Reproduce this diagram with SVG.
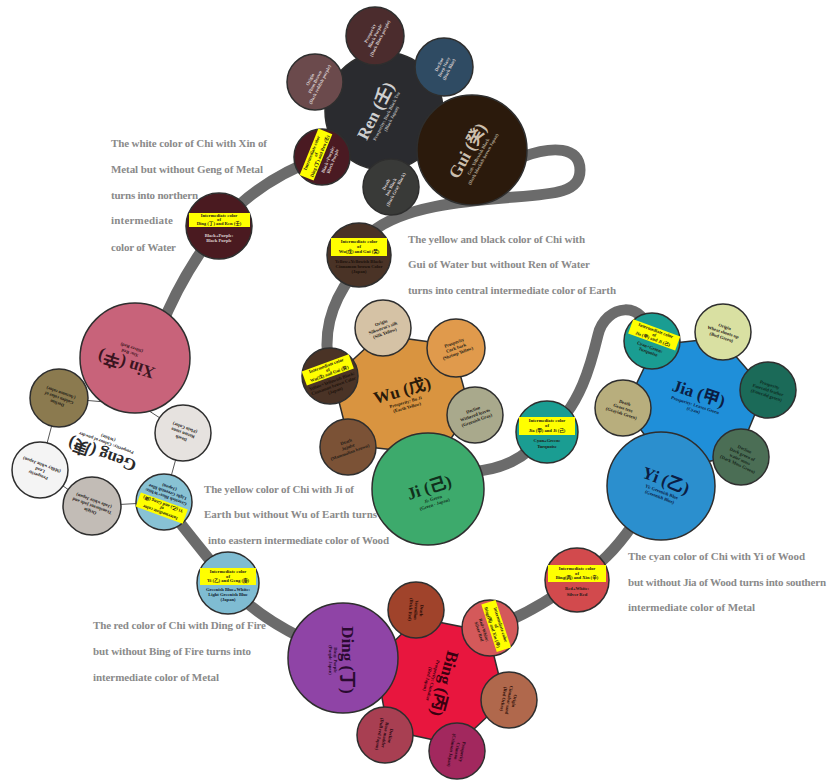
<svg xmlns="http://www.w3.org/2000/svg" width="829" height="782" viewBox="0 0 829 782">
<style>
.band{fill:none;stroke:#6b6b6b;stroke-width:11;stroke-linecap:round}
.nd{stroke:#2e2e2e;stroke-width:1.5}
.para{font-family:"Liberation Serif","Noto Sans CJK SC",serif;font-weight:bold;font-size:11px;fill:#8a8a8a}
.main{font-family:"Liberation Serif","Noto Sans CJK SC",serif;font-weight:bold;font-size:17px;text-anchor:middle}
.t5{font-family:"Liberation Serif","Noto Sans CJK SC",serif;font-size:4.6px;text-anchor:middle;font-weight:bold}
.lt{fill:#ddd3d3}
.dk{fill:#1e1a16}
.yb{fill:#ffff00}
</style>
<rect width="829" height="782" fill="#ffffff"/>
<g id="connectors">
<path class="band" d="M 522 157 C 552 146, 580 146, 580 170 C 580 192, 556 194, 515 197 C 462 201, 402 207, 372 232"/>
<path class="band" d="M 352 275 C 330 305, 322 335, 330 370"/>
<path class="band" d="M 470 472 C 500 470, 525 460, 547 432"/>
<path class="band" d="M 547 432 C 580 410, 592 360, 598 335 C 605 305, 645 296, 652 341"/>
<path class="band" d="M 632 526 C 615 550, 600 565, 577 580 C 550 600, 520 618, 490 628"/>
<path class="band" d="M 300 637 C 270 622, 245 605, 228 583 C 210 560, 185 530, 164 502"/>
<path class="band" d="M 160 330 C 175 290, 195 258, 219 226 C 245 195, 280 172, 322 157"/>
</g>

<!-- Ren cluster -->
<g id="ren">
<circle class="nd" cx="384" cy="111" r="59" fill="#2a2b2f"/>
<g transform="translate(378,112) rotate(-63)">
<text class="main" y="3" fill="#cfcfcf">Ren (壬)</text>
<text class="t5" y="11" fill="#b8b8b8">Prosperity: Dark Black Tea</text>
<text class="t5" y="16.5" fill="#b8b8b8">(Black Japan)</text>
</g>
</g>
<g id="ren-top">
<circle class="nd" cx="375" cy="36" r="29" fill="#4b2c2d"/>
<g transform="translate(375,36) rotate(-63)" class="lt">
<text class="t5" y="-4">Prosperity</text><text class="t5" y="1.5">Black Purple</text><text class="t5" y="7">(Dark Black purple)</text>
</g>
</g>
<g id="ren-decline">
<circle class="nd" cx="444" cy="67" r="29" fill="#2f4b63"/>
<g transform="translate(444,67) rotate(-63)" class="lt">
<text class="t5" y="-4">Decline</text><text class="t5" y="1.5">Deep Navy</text><text class="t5" y="7">(Dark Blue)</text>
</g>
</g>
<g id="ren-origin">
<circle class="nd" cx="315" cy="82" r="28" fill="#6b4a4c"/>
<g transform="translate(315,82) rotate(-63)" class="lt">
<text class="t5" y="-4">Origin</text><text class="t5" y="1.5">Plum Brown</text><text class="t5" y="7">(Dark reddish purple)</text>
</g>
</g>
<g id="ren-death">
<circle class="nd" cx="391" cy="187" r="28" fill="#393a38"/>
<g transform="translate(391,187) rotate(-63)" class="lt">
<text class="t5" y="-4">Death</text><text class="t5" y="1.5">Ink Black</text><text class="t5" y="7">(Dark Gray Black)</text>
</g>
</g>
<g id="ren-intermediate">
<circle class="nd" cx="322" cy="157" r="28" fill="#4a1a22"/>
<g transform="translate(322,157) rotate(-68)">
<rect class="yb" x="-25" y="-14" width="50" height="15"/>
<text class="t5 dk" y="-9.5">Intermediate color</text>
<text class="t5 dk" y="-5">of</text>
<text class="t5 dk" y="-0.8">Ding (丁) and Ren (壬)</text>
<text class="t5 lt" y="8">Black+Purple:</text>
<text class="t5 lt" y="13">Black Purple</text>
</g>
</g>
<g id="gui">
<circle class="nd" cx="472" cy="150" r="55" fill="#2b1a0c"/>
<g transform="translate(470,152) rotate(-61)">
<text class="main" y="3" fill="#cbbfae">Gui (癸)</text>
<text class="t5" y="11" fill="#b5a996">Gui: Yellowish Black</text>
<text class="t5" y="16.5" fill="#b5a996">(Dark blackish brown Japan)</text>
</g>
</g>

<g id="ding-ren-intermediate">
<circle class="nd" cx="219" cy="226" r="33" fill="#4a1a20"/>
<g transform="translate(219,226)">
<rect class="yb" x="-30" y="-13" width="61" height="14"/>
<text class="t5 dk" y="-9">Intermediate color</text>
<text class="t5 dk" y="-4.8">of</text>
<text class="t5 dk" y="-0.6">Ding (丁) and Ren (壬)</text>
<text class="t5 lt" y="11">Black+Purple:</text>
<text class="t5 lt" y="16">Black Purple</text>
</g>
</g>

<!-- Wu cluster -->
<g id="wu">
<polygon class="nd" points="380,335 452,345 470,410 440,455 350,445 333,378" fill="#d99440"/>
<g transform="translate(403,393) rotate(-16)">
<text class="main" y="3" fill="#2a1a0a">Wu (戊)</text>
<text class="t5" y="11" fill="#2a1a0a">Prosperity: Bo Ji</text>
<text class="t5" y="16.5" fill="#2a1a0a">(Earth Yellow)</text>
</g>
</g>
<g id="wu-origin">
<circle class="nd" cx="383" cy="328" r="28" fill="#d5c2a5"/>
<g transform="translate(383,328) rotate(-20)" class="dk">
<text class="t5" y="-4">Origin</text><text class="t5" y="1.5">Silkworm's silk</text><text class="t5" y="7">(Silk Yellow)</text>
</g>
</g>
<g id="wu-prosperity">
<circle class="nd" cx="456" cy="348" r="29" fill="#e09a4c"/>
<g transform="translate(456,348) rotate(-20)" class="dk">
<text class="t5" y="-4">Prosperity</text><text class="t5" y="1.5">Cork bark</text><text class="t5" y="7">(Shrimp Yellow)</text>
</g>
</g>
<g id="wu-decline">
<circle class="nd" cx="475" cy="415" r="28" fill="#a9a98c"/>
<g transform="translate(475,415) rotate(-20)" class="dk">
<text class="t5" y="-4">Decline</text><text class="t5" y="1.5">Withered leaves</text><text class="t5" y="7">(Greenish Gray)</text>
</g>
</g>
<g id="wu-death">
<circle class="nd" cx="348" cy="447" r="28" fill="#7b5236"/>
<g transform="translate(348,447) rotate(-20)" class="dk">
<text class="t5" y="-4">Death</text><text class="t5" y="1.5">Jujube</text><text class="t5" y="7">(Mammalian brown)</text>
</g>
</g>
<g id="wu-intermediate">
<circle class="nd" cx="330" cy="376" r="28" fill="#4a3326"/>
<g transform="translate(330,376) rotate(-20)">
<rect class="yb" x="-25" y="-14" width="50" height="15"/>
<text class="t5 dk" y="-9.5">Intermediate color</text>
<text class="t5 dk" y="-5">of</text>
<text class="t5 dk" y="-0.8">Wu(戊) and Gui (癸)</text>
<text class="t5" y="7" fill="#1a100a">Yellow+Yellowish Black:</text>
<text class="t5" y="12" fill="#1a100a">Cinnamon brown Color</text>
<text class="t5" y="17" fill="#1a100a">(Japan)</text>
</g>
</g>
<g id="wu-gui-intermediate">
<circle class="nd" cx="359" cy="255" r="32" fill="#4a3326"/>
<g transform="translate(359,255)">
<rect class="yb" x="-28" y="-17" width="56" height="18"/>
<text class="t5 dk" y="-12">Intermediate color</text>
<text class="t5 dk" y="-7.3">of</text>
<text class="t5 dk" y="-2.5">Wu(戊) and Gui (癸)</text>
<text class="t5" y="8" fill="#1a100a">Yellow+Yellowish Black:</text>
<text class="t5" y="13" fill="#1a100a">Cinnamon brown Color</text>
<text class="t5" y="18" fill="#1a100a">(Japan)</text>
</g>
</g>
<g id="ji">
<circle class="nd" cx="428" cy="489" r="56" fill="#3daa6c"/>
<g transform="translate(430,490) rotate(-18)">
<text class="main" y="3" fill="#10301c">Ji (己)</text>
<text class="t5" y="11" fill="#10301c">Ji: Green</text>
<text class="t5" y="16.5" fill="#10301c">(Green · Japan)</text>
</g>
</g>

<!-- Jia cluster -->
<g id="jia">
<polygon class="nd" points="655,345 720,338 765,390 738,455 670,470 625,408" fill="#1f8fd9"/>
<g transform="translate(698,396) rotate(18)">
<text class="main" y="3" fill="#0b1d44">Jia (甲)</text>
<text class="t5" y="11" fill="#0b1d44">Prosperity: Leaves Green</text>
<text class="t5" y="16.5" fill="#0b1d44">(Cyan)</text>
</g>
</g>
<g id="jia-origin">
<circle class="nd" cx="723" cy="332" r="28" fill="#d9e0a2"/>
<g transform="translate(723,332) rotate(18)" class="dk">
<text class="t5" y="-4">Origin</text><text class="t5" y="1.5">Wheat shoots up</text><text class="t5" y="7">(Bud Green)</text>
</g>
</g>
<g id="jia-prosperity">
<circle class="nd" cx="768" cy="390" r="28" fill="#1b6a58"/>
<g transform="translate(768,390) rotate(18)" fill="#0c2a22">
<text class="t5" y="-4">Prosperity</text><text class="t5" y="1.5">Emerald feather</text><text class="t5" y="7">(Emerald green)</text>
</g>
</g>
<g id="jia-decline">
<circle class="nd" cx="741" cy="457" r="28" fill="#4b6e55"/>
<g transform="translate(741,457) rotate(25)" fill="#142419">
<text class="t5" y="-7">Decline</text><text class="t5" y="-1.5">Dark green of</text><text class="t5" y="4">water moss</text><text class="t5" y="9.5">(Dark Moss Green)</text>
</g>
</g>
<g id="jia-death">
<circle class="nd" cx="623" cy="408" r="28" fill="#b8ae7d"/>
<g transform="translate(623,408) rotate(18)" class="dk">
<text class="t5" y="-4">Death</text><text class="t5" y="1.5">Grass tree</text><text class="t5" y="7">(Grayish Green)</text>
</g>
</g>
<g id="jia-intermediate">
<circle class="nd" cx="652" cy="341" r="28" fill="#1a9d92"/>
<g transform="translate(652,341) rotate(20)">
<rect class="yb" x="-25" y="-14" width="50" height="15"/>
<text class="t5 dk" y="-9.5">Intermediate color</text>
<text class="t5 dk" y="-5">of</text>
<text class="t5 dk" y="-0.8">Jia (甲) and Ji (己)</text>
<text class="t5 dk" y="8">Cyan+Green:</text>
<text class="t5 dk" y="13">Turquoise</text>
</g>
</g>
<g id="yi">
<circle class="nd" cx="661" cy="486" r="54" fill="#2b8fce"/>
<g transform="translate(665,483) rotate(21)">
<text class="main" y="3" fill="#0b1d44">Yi (乙)</text>
<text class="t5" y="11" fill="#0b1d44">Yi: Greenish Blue</text>
<text class="t5" y="16.5" fill="#0b1d44">(Greenish Blue)</text>
</g>
</g>
<g id="jia-ji-intermediate">
<circle class="nd" cx="547" cy="432" r="31" fill="#1a9d92"/>
<g transform="translate(547,432)">
<rect class="yb" x="-28" y="-15" width="56" height="18"/>
<text class="t5 dk" y="-10">Intermediate color</text>
<text class="t5 dk" y="-5.3">of</text>
<text class="t5 dk" y="-0.5">Jia (甲) and Ji (己)</text>
<text class="t5 dk" y="10">Cyan+Green:</text>
<text class="t5 dk" y="15.5">Turquoise</text>
</g>
</g>

<!-- Bing cluster -->
<g id="bing">
<polygon class="nd" points="418,618 488,632 505,700 457,745 388,730 375,660" fill="#e8163e"/>
<g transform="translate(442,683) rotate(105)">
<text class="main" y="3" fill="#3a0010">Bing (丙)</text>
<text class="t5" y="11" fill="#3a0010">Prosperity: Cinnabar</text>
<text class="t5" y="16.5" fill="#3a0010">(Red Japan)</text>
</g>
</g>
<g id="bing-death">
<circle class="nd" cx="416" cy="610" r="28" fill="#a0432b"/>
<g transform="translate(416,610) rotate(95)" fill="#2a0c06">
<text class="t5" y="-4">Death</text><text class="t5" y="1.5">Vermilion</text><text class="t5" y="7">(Brick Red)</text>
</g>
</g>
<g id="bing-origin">
<circle class="nd" cx="509" cy="700" r="28" fill="#b0684c"/>
<g transform="translate(509,700) rotate(100)" fill="#2a0c06">
<text class="t5" y="-4">Origin</text><text class="t5" y="1.5">Cinnabar sand</text><text class="t5" y="7">(Red Ochre)</text>
</g>
</g>
<g id="bing-prosperity">
<circle class="nd" cx="457" cy="751" r="28" fill="#a2285e"/>
<g transform="translate(457,751) rotate(100)" fill="#2a0616">
<text class="t5" y="-4">Prosperity</text><text class="t5" y="1.5">Crimson</text><text class="t5" y="7">(Crimson Japan)</text>
</g>
</g>
<g id="bing-decline">
<circle class="nd" cx="385" cy="735" r="28" fill="#a83f52"/>
<g transform="translate(385,735) rotate(100)" fill="#2a0812">
<text class="t5" y="-4">Decline</text><text class="t5" y="1.5">Rose madder</text><text class="t5" y="7">(Dull red Japan)</text>
</g>
</g>
<g id="bing-intermediate">
<circle class="nd" cx="490" cy="628" r="28" fill="#d4595a"/>
<g transform="translate(490,628) rotate(72)">
<rect class="yb" x="-25" y="-14" width="50" height="15"/>
<text class="t5 dk" y="-9.5">Intermediate color</text>
<text class="t5 dk" y="-5">of</text>
<text class="t5 dk" y="-0.8">Bing(丙) and Xin (辛)</text>
<text class="t5 dk" y="8">Red+White:</text>
<text class="t5 dk" y="13">Silver Red</text>
</g>
</g>
<g id="ding">
<circle class="nd" cx="343" cy="658" r="55" fill="#8f44a6"/>
<g transform="translate(345,660) rotate(90)">
<text class="main" y="3" fill="#2a0a30">Ding (丁)</text>
<text class="t5" y="11" fill="#2a0a30">Ding: Purple</text>
<text class="t5" y="16.5" fill="#2a0a30">(Purple Japan)</text>
</g>
</g>
<g id="bing-xin-intermediate">
<circle class="nd" cx="577" cy="580" r="32" fill="#d24a4d"/>
<g transform="translate(577,580)">
<rect class="yb" x="-29" y="-15" width="58" height="17"/>
<text class="t5 dk" y="-10">Intermediate color</text>
<text class="t5 dk" y="-5.5">of</text>
<text class="t5 dk" y="-1">Bing(丙) and Xin (辛)</text>
<text class="t5 dk" y="10">Red+White:</text>
<text class="t5 dk" y="15.5">Silver Red</text>
</g>
</g>
<g id="yi-geng-intermediate">
<circle class="nd" cx="228" cy="583" r="31" fill="#7fbcd2"/>
<g transform="translate(228,583)">
<rect class="yb" x="-28" y="-15" width="56" height="17"/>
<text class="t5 dk" y="-10">Intermediate color</text>
<text class="t5 dk" y="-5.5">of</text>
<text class="t5 dk" y="-1">Yi (乙) and Geng (庚)</text>
<text class="t5" y="8" fill="#102030">Greenish Blue+White:</text>
<text class="t5" y="13" fill="#102030">Light Greenish Blue</text>
<text class="t5" y="18" fill="#102030">(Japan)</text>
</g>
</g>

<!-- Geng / Xin cluster -->
<g id="geng">
<polygon points="59,398 140,405 183,433 164,502 92,506 40,470" fill="#ffffff" stroke="#555" stroke-width="1"/>
<g transform="translate(103,452) rotate(200)">
<text class="main" y="3" fill="#2a2a2a">Geng (庚)</text>
<text class="t5" y="11" fill="#2a2a2a">Prosperity: Colour of powder</text>
<text class="t5" y="16.5" fill="#2a2a2a">(White)</text>
</g>
</g>
<g id="xin">
<circle class="nd" cx="135" cy="358" r="55" fill="#c8637a"/>
<g transform="translate(127,362) rotate(198)">
<text class="main" y="3" fill="#3a1420">Xin (辛)</text>
<text class="t5" y="11" fill="#3a1420">Xin: Red</text>
<text class="t5" y="16.5" fill="#3a1420">(Silver Red)</text>
</g>
</g>
<g id="geng-decline">
<circle class="nd" cx="59" cy="398" r="29" fill="#8b7a4f"/>
<g transform="translate(59,398) rotate(200)" class="dk">
<text class="t5" y="-4">Decline</text><text class="t5" y="1.5">Golden color of</text><text class="t5" y="7">(Autumn color)</text>
</g>
</g>
<g id="geng-death">
<circle class="nd" cx="183" cy="433" r="28" fill="#e6e2df"/>
<g transform="translate(183,433) rotate(200)" class="dk">
<text class="t5" y="-4">Death</text><text class="t5" y="1.5">Rotten stone</text><text class="t5" y="7">(Plain Color)</text>
</g>
</g>
<g id="geng-prosperity">
<circle class="nd" cx="40" cy="470" r="28" fill="#f4f4f4"/>
<g transform="translate(40,470) rotate(200)" class="dk">
<text class="t5" y="-4">Prosperity</text><text class="t5" y="1.5">Lead</text><text class="t5" y="7">(Milky white Japan)</text>
</g>
</g>
<g id="geng-origin">
<circle class="nd" cx="92" cy="506" r="29" fill="#c2bcb6"/>
<g transform="translate(92,506) rotate(200)" class="dk">
<text class="t5" y="-4">Origin</text><text class="t5" y="1.5">Translucent jade and</text><text class="t5" y="7">(Jade white Japan)</text>
</g>
</g>
<g id="geng-intermediate">
<circle class="nd" cx="164" cy="502" r="28" fill="#88c2d4"/>
<g transform="translate(164,502) rotate(200)">
<rect class="yb" x="-25" y="-14" width="50" height="15"/>
<text class="t5 dk" y="-9.5">Intermediate color</text>
<text class="t5 dk" y="-5">of</text>
<text class="t5 dk" y="-0.8">Yi (乙) and Geng (庚)</text>
<text class="t5" y="7" fill="#102030">Greenish Blue+White:</text>
<text class="t5" y="12" fill="#102030">Light Greenish Blue</text>
<text class="t5" y="17" fill="#102030">(Japan)</text>
</g>
</g>

<!-- descriptive texts -->
<g id="notes">
<text class="para" x="111" y="147" textLength="156">The white color of Chi with Xin of</text>
<text class="para" x="111" y="173" textLength="152">Metal but without Geng of Metal</text>
<text class="para" x="111" y="199" textLength="87">turns into northern</text>
<text class="para" x="111" y="224" textLength="62">intermediate</text>
<text class="para" x="111" y="251" textLength="65">color of Water</text>

<text class="para" x="408" y="243" textLength="177">The yellow and black color of Chi with</text>
<text class="para" x="408" y="268" textLength="182">Gui of Water but without Ren of Water</text>
<text class="para" x="408" y="294" textLength="208">turns into central intermediate color of Earth</text>

<text class="para" x="204" y="493" textLength="150">The yellow color of Chi with Ji of</text>
<text class="para" x="204" y="518" textLength="173">Earth but without Wu of Earth  turns</text>
<text class="para" x="208" y="544" textLength="181">into eastern intermediate color of Wood</text>

<text class="para" x="93" y="629" textLength="173">The red color of Chi with Ding of Fire</text>
<text class="para" x="93" y="655" textLength="158">but without Bing of Fire turns into</text>
<text class="para" x="93" y="681" textLength="126">intermediate color of Metal</text>

<text class="para" x="628" y="560" textLength="177">The cyan color of Chi with Yi of Wood</text>
<text class="para" x="628" y="586" textLength="198">but without Jia of Wood turns into southern</text>
<text class="para" x="628" y="611" textLength="127">intermediate color of Metal</text>
</g>
</svg>
